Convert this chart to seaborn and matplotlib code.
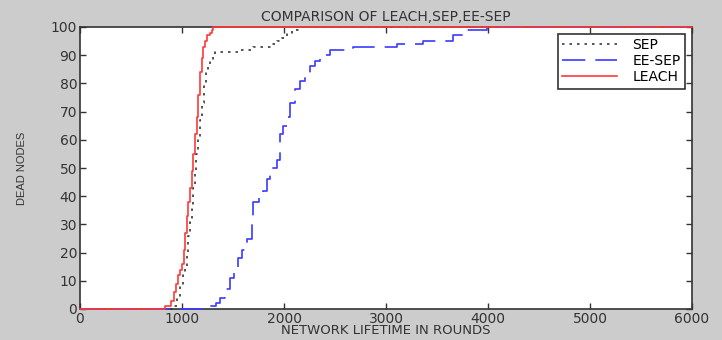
import numpy as np
import pandas as pd
import matplotlib
matplotlib.use('Agg')
import matplotlib.pyplot as plt
import seaborn as sns

# breakpoints (rounds, dead nodes)
leach_rounds = [0, 835, 890, 920, 945, 964, 980, 997, 1015, 1030, 1046, 1062, 1078,
                1095, 1111, 1128, 1144, 1160, 1176, 1192, 1209, 1225, 1242, 1270,
                1291, 1307, 6000]
leach_dead = [0, 1, 3, 6, 9, 12, 14, 16, 21, 27, 33, 38, 43,
              49, 55, 62, 68, 76, 84, 89, 93, 95, 97, 98,
              99, 100, 100]

sep_rounds = [0, 915, 950, 980, 1005, 1029, 1045, 1062, 1080, 1095, 1110, 1127,
              1140, 1154, 1175, 1193, 1215, 1235, 1255, 1275, 1300, 1324, 1389,
              1569, 1634, 1699, 1879, 1928, 1977, 2026, 2080, 2124, 2150, 6000]
sep_dead = [0, 1, 4, 8, 12, 15, 20, 26, 31, 36, 43, 49,
            55, 61, 67, 73, 79, 84, 86, 88, 90, 91, 91,
            92, 92, 93, 94, 95, 96, 98, 99, 99, 100, 100]

eesep_rounds = [0, 1275, 1330, 1373, 1420, 1471, 1510, 1552, 1590, 1634, 1683,
                1699, 1750, 1797, 1830, 1863, 1928, 1961, 1995, 2026, 2059, 2108,
                2157, 2205, 2255, 2300, 2353, 2451, 2680, 3105, 3366, 3660, 3775,
                3990, 6000]
eesep_dead = [0, 1, 2, 4, 7, 11, 14, 18, 21, 25, 30,
              38, 40, 42, 46, 50, 53, 62, 65, 68, 73, 78,
              81, 83, 86, 88, 90, 92, 93, 94, 95, 97, 99,
              100, 100]

df = pd.concat([
    pd.DataFrame({'rounds': sep_rounds, 'dead': sep_dead, 'protocol': 'SEP'}),
    pd.DataFrame({'rounds': eesep_rounds, 'dead': eesep_dead, 'protocol': 'EE-SEP'}),
    pd.DataFrame({'rounds': leach_rounds, 'dead': leach_dead, 'protocol': 'LEACH'}),
])

plt.rcParams['font.family'] = ['DejaVu Sans']
fig = plt.figure(figsize=(7.22, 3.4), dpi=100, facecolor='#cccccc')
ax = fig.add_axes([80 / 722, 1 - 309 / 340, 612 / 722, 282 / 340])
ax.set_facecolor('white')

palette = {'SEP': '#383838', 'EE-SEP': '#3a3aff', 'LEACH': '#ff3a3a'}
dashes = {'SEP': (1.5, 3), 'EE-SEP': (14, 6), 'LEACH': ''}
sns.lineplot(data=df, x='rounds', y='dead', hue='protocol', style='protocol',
             palette=palette, dashes=dashes, estimator=None, sort=False,
             drawstyle='steps-post', linewidth=1.2, clip_on=False, zorder=3, ax=ax)

ax.set_xlim(0, 6000)
ax.set_ylim(0, 100)
ax.set_xticks(range(0, 6001, 1000))
ax.set_yticks(range(0, 101, 10))
ax.tick_params(direction='in', top=True, right=True, labelsize=10, length=4,
               colors='#333333', width=1, pad=2)
for s in ax.spines.values():
    s.set_color('#333333')
    s.set_linewidth(1.2)
ax.set_title('COMPARISON OF LEACH,SEP,EE-SEP', fontsize=10, color='#333333', pad=4)
ax.set_xlabel('NETWORK LIFETIME IN ROUNDS', fontsize=9.5, color='#333333', labelpad=-1)
ax.set_ylabel('DEAD NODES', fontsize=8, family='Liberation Sans', color='#333333',
              labelpad=17)

leg = ax.legend(loc='upper right', fontsize=10, frameon=True, fancybox=False,
                edgecolor='#333333', borderpad=0.3, handlelength=4.0,
                handletextpad=1.1, labelspacing=0.15, borderaxespad=0,
                bbox_to_anchor=(605 / 612, 1 - 7 / 282))
leg.get_frame().set_linewidth(1.2)
leg.get_frame().set_alpha(1)

fig.savefig('out.png', dpi=100, facecolor=fig.get_facecolor())
